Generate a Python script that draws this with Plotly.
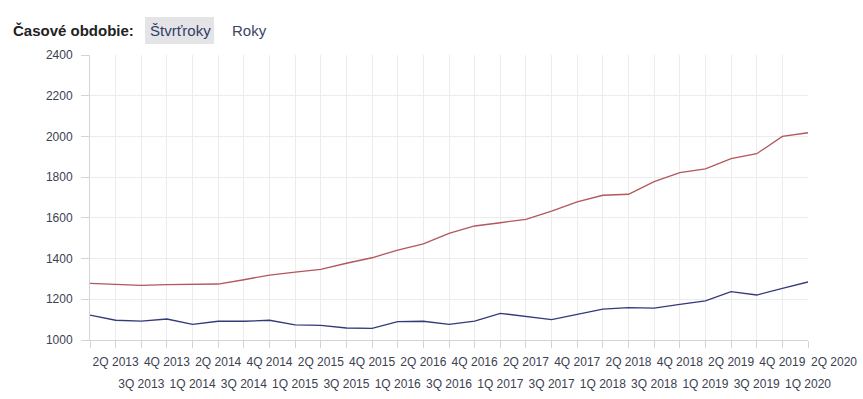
import plotly.graph_objects as go

quarters = ["1Q 2013", "2Q 2013", "3Q 2013", "4Q 2013",
            "1Q 2014", "2Q 2014", "3Q 2014", "4Q 2014",
            "1Q 2015", "2Q 2015", "3Q 2015", "4Q 2015",
            "1Q 2016", "2Q 2016", "3Q 2016", "4Q 2016",
            "1Q 2017", "2Q 2017", "3Q 2017", "4Q 2017",
            "1Q 2018", "2Q 2018", "3Q 2018", "4Q 2018",
            "1Q 2019", "2Q 2019", "3Q 2019", "4Q 2019",
            "1Q 2020", "2Q 2020"]

red_values = [1278, 1273, 1268, 1272, 1274, 1275, 1296, 1319, 1333, 1347,
              1377, 1404, 1442, 1472, 1524, 1560, 1576, 1593, 1633, 1679,
              1711, 1716, 1778, 1822, 1841, 1891, 1915, 2000, 2018]

blue_values = [1122, 1097, 1093, 1103, 1077, 1092, 1092, 1097, 1074, 1072,
               1059, 1057, 1090, 1092, 1077, 1093, 1131, 1116, 1100, 1126,
               1152, 1159, 1157, 1175, 1192, 1238, 1221, 1254, 1285]

y_ticks = [1000, 1200, 1400, 1600, 1800, 2000, 2200, 2400]

RED = "#b2575a"
BLUE = "#33397a"
TXT = "#3b4150"
GRID = "#ececec"
AXIS = "#d4d4d4"
FONT = "Liberation Sans, Arial, sans-serif"

n = len(red_values)
xs = list(range(n))

fig = go.Figure()
fig.add_trace(go.Scatter(x=xs, y=red_values, mode="lines",
                         line=dict(color=RED, width=1.3), name="",
                         hoverinfo="y"))
fig.add_trace(go.Scatter(x=xs, y=blue_values, mode="lines",
                         line=dict(color=BLUE, width=1.3), name="",
                         hoverinfo="y"))

row1_text = [quarters[i] if (i % 2 == 1) else "" for i in xs]
row2_vals = [i for i in xs if i % 2 == 0 and i > 0]
row2_text = [quarters[i] for i in row2_vals]

# body margin is removed (post_script), so figure pixels == window pixels
W, H = 863, 399
PL, PT, PR, PB = 90, 55, 808, 340  # plot area in pixels
PW, PH = PR - PL, PB - PT


def px(xw):  # window x pixel -> paper x
    return (xw - PL) / PW


def py(yw):  # window y pixel -> paper y
    return (PB - yw) / PH


fig.update_layout(
    width=W, height=H,
    margin=dict(l=PL, r=W - PR, t=PT, b=H - PB, autoexpand=False),
    paper_bgcolor="white", plot_bgcolor="white",
    showlegend=False,
    font=dict(family=FONT, size=12, color=TXT),
    xaxis=dict(
        range=[0, n - 1], tickmode="array", tickvals=xs, ticktext=row1_text,
        showgrid=True, gridcolor=GRID, gridwidth=1,
        showline=True, linecolor=AXIS, linewidth=1,
        ticks="outside", ticklen=7, tickcolor=AXIS,
        tickfont=dict(family=FONT, size=12, color=TXT),
        ticklabelstandoff=4, zeroline=False, mirror=False,
    ),
    xaxis2=dict(
        overlaying="x", anchor="y", side="bottom",
        range=[0, n - 1], tickmode="array", tickvals=row2_vals, ticktext=row2_text,
        showgrid=False, showline=False, ticks="", zeroline=False,
        tickfont=dict(family=FONT, size=12, color=TXT),
        ticklabelstandoff=35,
    ),
    yaxis=dict(
        range=[1000, 2400], tickmode="array", tickvals=y_ticks,
        showgrid=True, gridcolor=GRID, gridwidth=1,
        showline=True, linecolor=AXIS, linewidth=1,
        ticks="outside", ticklen=8, tickcolor=AXIS,
        tickfont=dict(family=FONT, size=12, color=TXT),
        ticklabelstandoff=6, zeroline=False,
    ),
)

# dummy invisible trace on xaxis2 so it is rendered
fig.add_trace(go.Scatter(x=[0], y=[1000], xaxis="x2", mode="markers",
                         marker=dict(opacity=0), hoverinfo="skip"))

# trailing quarter label one step beyond the last data point
fig.add_annotation(x=n / (n - 1), xref="paper", xanchor="center",
                   y=py(362), yref="paper", yanchor="middle",
                   text=quarters[n], showarrow=False,
                   font=dict(family=FONT, size=12, color=TXT))

# header controls
fig.add_shape(type="rect", xref="paper", yref="paper",
              x0=px(145), x1=px(214), y0=py(44), y1=py(17),
              fillcolor="#e4e4e6", line=dict(width=0), layer="below")
fig.add_annotation(x=px(11), xref="paper", xanchor="left",
                   y=py(31), yref="paper", yanchor="middle",
                   text="<b>Časové obdobie:</b>", showarrow=False,
                   font=dict(family=FONT, size=15, color="#222222"))
fig.add_annotation(x=px(180), xref="paper", xanchor="center",
                   y=py(31), yref="paper", yanchor="middle",
                   text="Štvrťroky", showarrow=False,
                   font=dict(family=FONT, size=15, color="#2f3d66"))
fig.add_annotation(x=px(249), xref="paper", xanchor="center",
                   y=py(31), yref="paper", yanchor="middle",
                   text="Roky", showarrow=False,
                   font=dict(family=FONT, size=15, color="#3a4766"))

fig.write_html("out.html",
               config={"displayModeBar": False},
               post_script="document.body.style.margin='0';"
                           "document.body.style.overflow='hidden';")
